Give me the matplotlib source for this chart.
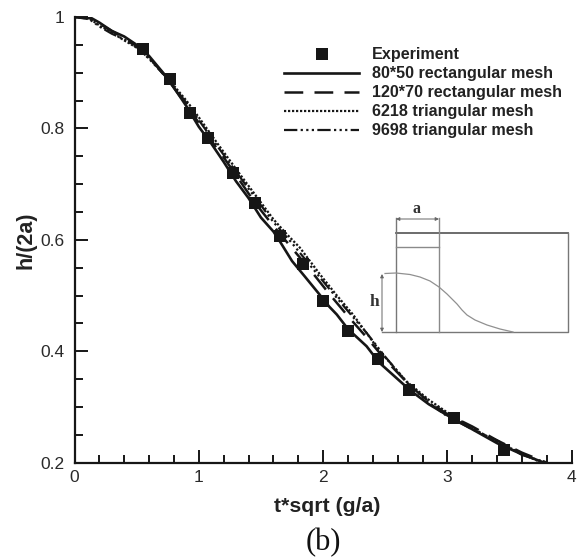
import matplotlib
matplotlib.use("Agg")
import matplotlib.pyplot as plt

plt.rcParams['font.family'] = ['Liberation Sans', 'DejaVu Sans']

exp_x = [0.55, 0.766, 0.93, 1.074, 1.275, 1.45, 1.653, 1.838, 2.0, 2.2, 2.444, 2.69, 3.05, 3.455]
exp_y = [0.942, 0.888, 0.827, 0.782, 0.72, 0.667, 0.607, 0.557, 0.49, 0.437, 0.387, 0.33, 0.281, 0.223]

rect80_x = [0, .12, .2, .3, .4, .5, .6, .75, .9, 1.0, 1.1, 1.2, 1.3, 1.4, 1.5, 1.6, 1.65, 1.75, 1.85, 1.96, 2.05, 2.11, 2.2, 2.35, 2.45, 2.6, 2.7, 2.85, 3.0, 3.2, 3.4, 3.6, 3.78]
rect80_y = [1, 1, .99, .975, .965, .95, .93, .89, .84, .803, .773, .74, .705, .675, .64, .615, .598, .562, .535, .505, .48, .466, .44, .409, .38, .35, .33, .305, .285, .26, .235, .215, .2]

rect120_x = [0, .12, .2, .3, .4, .5, .6, .75, .9, 1.0, 1.1, 1.2, 1.3, 1.45, 1.6, 1.75, 1.9, 2.05, 2.2, 2.35, 2.5, 2.7, 2.85, 3.0, 3.2, 3.4, 3.6, 3.8]
rect120_y = [1, .998, .988, .975, .962, .948, .928, .888, .842, .81, .778, .748, .716, .667, .625, .585, .545, .503, .463, .425, .385, .338, .31, .287, .265, .24, .218, .2]

tri6218_x = [0, .12, .2, .3, .4, .5, .6, .75, .9, 1.0, 1.15, 1.3, 1.45, 1.6, 1.7, 1.813, 1.975, 2.1, 2.24, 2.457, 2.67, 2.85, 3.0, 3.2, 3.4, 3.6, 3.76]
tri6218_y = [1, .997, .985, .972, .958, .945, .926, .89, .85, .82, .773, .727, .682, .637, .612, .586, .538, .503, .466, .40, .346, .313, .29, .262, .238, .216, .2]

tri9698_x = [0, .12, .2, .3, .4, .5, .6, .75, .9, 1.0, 1.15, 1.3, 1.45, 1.6, 1.75, 1.9, 2.05, 2.2, 2.35, 2.5, 2.7, 2.85, 3.0, 3.2, 3.4, 3.6, 3.8]
tri9698_y = [1, .996, .983, .97, .96, .946, .925, .889, .846, .815, .768, .722, .677, .632, .594, .553, .512, .472, .433, .39, .338, .308, .283, .26, .24, .214, .2]

labels = ["Experiment", "80*50 rectangular mesh", "120*70 rectangular mesh", "6218 triangular mesh", "9698 triangular mesh"]
x_ticks = [0, 1, 2, 3, 4]
y_ticks = [0.2, 0.4, 0.6, 0.8, 1]
y_labels = ["0.2", "0.4", "0.6", "0.8", "1"]
x_minor = [.2, .4, .6, .8, 1.2, 1.4, 1.6, 1.8, 2.2, 2.4, 2.6, 2.8, 3.2, 3.4, 3.6, 3.8]
y_minor = [.25, .3, .35, .45, .5, .55, .65, .7, .75, .85, .9, .95]

W, H = 581, 558
dark = "#161616"
fig = plt.figure(figsize=(W / 100, H / 100), dpi=100)
ax = fig.add_axes([74.5 / W, 1 - 462.7 / H, 497.2 / W, 445.7 / H])

ax.plot(rect80_x, rect80_y, color=dark, lw=1.9, label=labels[1])
ax.plot(rect120_x, rect120_y, color=dark, lw=1.8, ls=(0, (7.5, 4.5)), label=labels[2])
ax.plot(tri6218_x, tri6218_y, color=dark, lw=1.6, ls=(0, (1, 0.8)), label=labels[3])
ax.plot(tri9698_x, tri9698_y, color=dark, lw=1.6, ls=(0, (6, 1.5, 1, 1.5, 1, 1.5, 1, 1.5)), label=labels[4])
ax.plot(exp_x, exp_y, ls="none", marker="s", ms=8.6, color=dark, mew=0, label=labels[0], zorder=5)

ax.set_xlim(0, 4)
ax.set_ylim(0.2, 1)
ax.spines["top"].set_visible(False)
ax.spines["right"].set_visible(False)
ax.spines["left"].set_linewidth(1.6)
ax.spines["bottom"].set_linewidth(1.6)
ax.spines["left"].set_color(dark)
ax.spines["bottom"].set_color(dark)
ax.set_xticks(x_ticks)
ax.set_yticks(y_ticks)
ax.set_yticklabels(y_labels)
ax.set_xticks(x_minor, minor=True)
ax.set_yticks(y_minor, minor=True)
ax.tick_params(which="major", direction="in", length=9.5, width=1.4, color=dark,
               labelsize=12.5, labelcolor="#2a2a2a")
ax.tick_params(axis="x", which="major", pad=5.5)
ax.tick_params(axis="y", which="major", pad=7)
ax.tick_params(which="minor", direction="in", length=5.5, width=1.4, color=dark)
ax.patch.set_alpha(0)

handles, labs = ax.get_legend_handles_labels()
order = [4, 0, 1, 2, 3]
leg = ax.legend([handles[i] for i in order], [labs[i] for i in order], frameon=False,
                loc="upper left", bbox_to_anchor=(0.422, 0.932), borderaxespad=0, borderpad=0,
                handlelength=4.65, handletextpad=0.8, labelspacing=0.25,
                prop={"size": 11.6, "weight": "bold"}, numpoints=1)
for t in leg.get_texts():
    t.set_color("#222222")

# labels placed in pixel positions of the figure
fig.text(327 / W, 1 - 507 / H, "t*sqrt (g/a)", ha="center", va="center", fontsize=15.3, fontweight="bold", color="#222222")
fig.text(26 / W, 1 - 240 / H, "h/(2a)", rotation=90, ha="center", va="center", fontsize=15.5, fontweight="bold", color="#222222")
fig.text(323 / W, 1 - 543 / H, "(b)", ha="center", va="center", fontsize=22, family="Liberation Serif", color="#111111")

# inset sketch, pixel coordinates
ins = fig.add_axes([0, 0, 1, 1])
ins.set_xlim(0, W)
ins.set_ylim(H, 0)
ins.axis("off")
ins.patch.set_alpha(0)
gray = "#8a8a8a"
wave_x = [385, 396, 410, 420, 430, 439, 447, 452, 457, 462, 467, 475, 487, 500, 513]
wave_y = [273.5, 273, 274.5, 277, 281, 287, 294, 299, 304, 310, 315, 320, 325, 329, 332]
ins.plot([396, 568], [233, 233], color="#606060", lw=1.3)
ins.plot([568, 568, 382], [233, 332, 332], color="#777777", lw=1.0)
ins.plot([396, 396], [218, 332], color="#777777", lw=1.0)
ins.plot([439, 439], [218, 332], color=gray, lw=1.0)
ins.plot([396, 439], [247, 247], color=gray, lw=1.0)
ins.plot(wave_x, wave_y, color="#909090", lw=0.9)
ins.annotate("", xy=(396, 219), xytext=(439, 219), arrowprops=dict(arrowstyle="<|-|>", color="#666666", lw=0.7, mutation_scale=5, shrinkA=0, shrinkB=0))
ins.annotate("", xy=(382, 274), xytext=(382, 332), arrowprops=dict(arrowstyle="<|-|>", color="#666666", lw=0.7, mutation_scale=5, shrinkA=0, shrinkB=0))
ins.text(416.5, 209, "a", ha="center", va="center", fontsize=11.5, fontweight="bold", family="Liberation Serif", color="#333333")
ins.text(374, 302, "h", ha="center", va="center", fontsize=12.5, fontweight="bold", family="Liberation Serif", color="#333333")

fig.savefig("out.png", dpi=100)
